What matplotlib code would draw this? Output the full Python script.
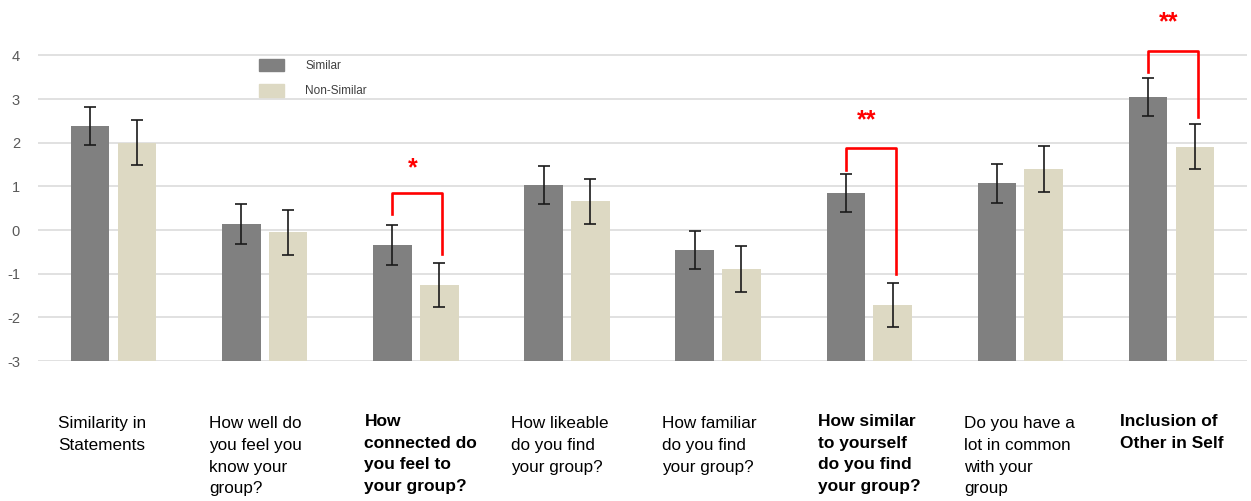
import matplotlib.pyplot as plt
import numpy as np
from matplotlib.patches import Patch

plt.rcParams['axes.unicode_minus'] = False
plt.rcParams['font.family'] = ['Liberation Sans', 'DejaVu Sans']

categories = ["Similarity in\nStatements",
              "How well do\nyou feel you\nknow your\ngroup?",
              "How\nconnected do\nyou feel to\nyour group?",
              "How likeable\ndo you find\nyour group?",
              "How familiar\ndo you find\nyour group?",
              "How similar\nto yourself\ndo you find\nyour group?",
              "Do you have a\nlot in common\nwith your\ngroup",
              "Inclusion of\nOther in Self"]
bold_labels = [2, 5, 7]

similar = [2.39, 0.14, -0.34, 1.03, -0.46, 0.85, 1.07, 3.05]
similar_err = [0.44, 0.45, 0.45, 0.44, 0.44, 0.44, 0.44, 0.44]
non_similar = [2.00, -0.05, -1.26, 0.66, -0.89, -1.72, 1.40, 1.91]
non_similar_err = [0.51, 0.52, 0.51, 0.51, 0.53, 0.51, 0.52, 0.51]

# significance brackets
sig_groups = [2, 5, 7]
sig_marks = ["*", "**", "**"]
bracket_top = [0.86, 1.88, 4.10]
bracket_left_end = [0.37, 1.38, 3.61]
bracket_right_end = [-0.55, -1.00, 2.60]
star_y = [1.42, 2.52, 4.75]

base = -3
x = np.arange(len(categories))
w = 0.255
off = 0.155

fig = plt.figure(figsize=(12.51, 5.01), dpi=100)
ax = fig.add_axes([0.0304, 0.2794, 0.9664, 0.7206])

ax.bar(x - off, np.array(similar) - base, w, bottom=base, color='#808080', zorder=2)
ax.bar(x + off, np.array(non_similar) - base, w, bottom=base, color='#ddd9c3', zorder=2)
ax.errorbar(x - off, similar, yerr=similar_err, fmt='none', ecolor='#1a1a1a',
            elinewidth=1.2, capsize=4, capthick=1.2, zorder=3)
ax.errorbar(x + off, non_similar, yerr=non_similar_err, fmt='none', ecolor='#1a1a1a',
            elinewidth=1.2, capsize=4, capthick=1.2, zorder=3)

for g, m, top, le, re, sy in zip(sig_groups, sig_marks, bracket_top,
                                  bracket_left_end, bracket_right_end, star_y):
    xl = g - off
    xr = g + off + 0.02
    ax.plot([xl, xl, xr, xr], [le, top, top, re], color='red', lw=1.9,
            solid_joinstyle='round', zorder=4)
    ax.text(g - 0.02, sy, m, color='red', fontsize=18, fontweight='bold',
            ha='center', va='center')

ax.set_xlim(-0.5, 7.5)
ax.set_ylim(base, 5.27)
ax.set_yticks(range(-3, 5))
ax.yaxis.grid(True, color='#dcdcdc', lw=1.2, zorder=0)
ax.set_axisbelow(True)
ax.set_xticks([])
ax.tick_params(axis='y', length=0, pad=13, labelsize=10.5, labelcolor='#595959')
for s in ax.spines.values():
    s.set_visible(False)

for i, lab in enumerate(categories):
    if i in bold_labels:
        ax.text(i - 0.34, -4.22, lab, ha='left', va='top', multialignment='left',
                fontsize=12.5, fontweight='bold', linespacing=1.55,
                clip_on=False, color='#000000')
    else:
        ax.text(i - 0.37, -4.25, lab, ha='left', va='top', multialignment='left',
                fontsize=12.3, linespacing=1.58, clip_on=False, color='#000000')

handles = [Patch(color='#808080', label='Similar'),
           Patch(color='#ddd9c3', label='Non-Similar')]
fig.legend(handles=handles, loc='upper left', bbox_to_anchor=(248 / 1251, 1 - 48 / 501),
           frameon=False, fontsize=8.5, handlelength=2.15, handleheight=1.3,
           handletextpad=1.8, labelspacing=1.0, labelcolor='#404040')

fig.savefig('out.png', dpi=100)
